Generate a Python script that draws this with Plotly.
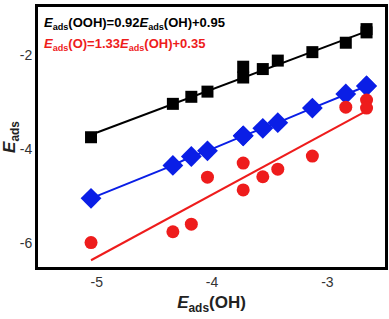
import plotly.graph_objects as go

x_oh = [-5.05, -4.34, -4.18, -4.04, -3.73, -3.73, -3.56, -3.43, -3.13, -2.84, -2.66, -2.66]
y_ooh = [-3.75, -3.04, -2.89, -2.78, -2.25, -2.48, -2.30, -2.12, -1.94, -1.74, -1.45, -1.52]
y_oh = [-5.05, -4.35, -4.16, -4.04, -3.72, -3.72, -3.56, -3.44, -3.13, -2.83, -2.66, -2.66]
y_o = [-5.99, -5.76, -5.60, -4.60, -4.30, -4.87, -4.59, -4.43, -4.15, -3.11, -2.96, -3.13]

fit_ooh = (0.92, 0.95)
fit_o = (1.33, 0.35)
fit_x = [min(x_oh), max(x_oh)]

fig = go.Figure()
fig.add_trace(go.Scatter(x=fit_x, y=[fit_ooh[0] * v + fit_ooh[1] for v in fit_x], mode="lines",
                         line=dict(color="black", width=2), showlegend=False))
fig.add_trace(go.Scatter(x=fit_x, y=[fit_o[0] * v + fit_o[1] for v in fit_x], mode="lines",
                         line=dict(color="#ee1c1c", width=2), showlegend=False))
fig.add_trace(go.Scatter(x=x_oh, y=y_oh, mode="lines+markers",
                         line=dict(color="#0a1ee6", width=2),
                         marker=dict(symbol="diamond", size=16, color="#0a1ee6"), showlegend=False))
fig.add_trace(go.Scatter(x=x_oh, y=y_ooh, mode="markers",
                         marker=dict(symbol="square", size=12, color="black"), showlegend=False))
fig.add_trace(go.Scatter(x=x_oh, y=y_o, mode="markers",
                         marker=dict(symbol="circle", size=13, color="#ee1c1c"), showlegend=False))

font = "Liberation Sans, Arial, sans-serif"
fig.add_annotation(xref="paper", yref="paper", x=0.012, y=0.935, xanchor="left", yanchor="middle",
                   text="<b><i>E</i><sub>ads</sub>(OOH)=0.92<i>E</i><sub>ads</sub>(OH)+0.95</b>",
                   showarrow=False, font=dict(family=font, size=13, color="black"))
fig.add_annotation(xref="paper", yref="paper", x=0.012, y=0.855, xanchor="left", yanchor="middle",
                   text="<b><i>E</i><sub>ads</sub>(O)=1.33<i>E</i><sub>ads</sub>(OH)+0.35</b>",
                   showarrow=False, font=dict(family=font, size=13, color="#ee1c1c"))

fig.update_layout(
    width=389, height=319,
    margin=dict(l=38, r=4, t=7, b=52),
    plot_bgcolor="white", paper_bgcolor="white",
    font=dict(family=font, size=14, color="#333333"),
    xaxis=dict(range=[-5.51, -2.5], tickvals=[-5, -4, -3], ticktext=["-5", "-4", "-3"],
               showgrid=False, zeroline=False, showline=True, linewidth=3, linecolor="black",
               mirror=True, ticks="", ticklen=0, automargin=False,
               title=dict(text="<b><i>E</i><sub>ads</sub>(OH)</b>", font=dict(size=17, color="#222222"), standoff=8)),
    yaxis=dict(range=[-6.51, -0.98], tickvals=[-2, -4, -6], ticktext=["-2", "-4", "-6"],
               showgrid=False, zeroline=False, showline=True, linewidth=3, linecolor="black",
               mirror=True, ticks="", ticklen=0, automargin=False,
               title=dict(text="<b><i>E</i><sub>ads</sub></b>", font=dict(size=17, color="#222222"), standoff=4)),
)

fig.write_html("out.html", config={"displayModeBar": False},
               post_script="document.body.style.margin='0';document.body.style.overflow='hidden';")
